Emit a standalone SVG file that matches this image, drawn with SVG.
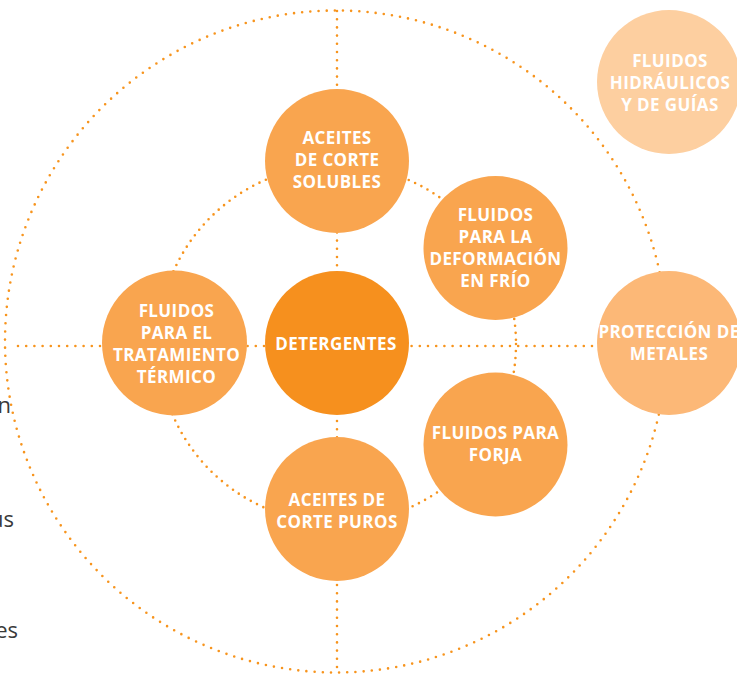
<svg xmlns="http://www.w3.org/2000/svg" width="737" height="675" viewBox="0 0 737 675">
<style>
.dot{fill:none;stroke:#F7941D;stroke-width:2.6;stroke-linecap:round;stroke-dasharray:0 8.2}
.dot2{fill:none;stroke:#F7941D;stroke-width:2.6;stroke-linecap:round;stroke-dasharray:0 7}
.n{fill:#F9A54F}
.c{fill:#F6901E}
.p{fill:#FCB877}
.h{fill:#FDCFA0}
.t{font-family:"Open Sans","Liberation Sans",sans-serif;font-weight:bold;font-size:17px;letter-spacing:0.4px;fill:#FFFFFF;text-anchor:middle}
.side{font-family:"Open Sans","Liberation Sans",sans-serif;font-size:22px;fill:#3A3A3A;text-anchor:end}
</style>
<rect width="737" height="675" fill="#FFFFFF"/>
<g id="connectors">
<circle class="dot" cx="336" cy="341.5" r="331"/>
<circle class="dot2" cx="337" cy="344" r="179"/>
<line class="dot" x1="337" y1="11" x2="337" y2="672"/>
<line class="dot" x1="18" y1="346" x2="668" y2="346"/>
</g>
<g class="side">
<text x="11" y="413">n</text>
<text x="14" y="527">us</text>
<text x="18" y="638">es</text>
</g>
<g id="node-aceites-solubles">
<circle class="n" cx="337" cy="161" r="72"/>
<text class="t" x="337" y="144">ACEITES</text>
<text class="t" x="337" y="166">DE CORTE</text>
<text class="t" x="337" y="188">SOLUBLES</text>
</g>
<g id="node-deformacion">
<circle class="n" cx="495.5" cy="248" r="72"/>
<text class="t" x="495.5" y="221">FLUIDOS</text>
<text class="t" x="495.5" y="243">PARA LA</text>
<text class="t" x="495.5" y="265">DEFORMACIÓN</text>
<text class="t" x="495.5" y="287">EN FRÍO</text>
</g>
<g id="node-tratamiento">
<circle class="n" cx="174.5" cy="343" r="72.5"/>
<text class="t" x="176.5" y="317">FLUIDOS</text>
<text class="t" x="176.5" y="339">PARA EL</text>
<text class="t" x="176.5" y="361">TRATAMIENTO</text>
<text class="t" x="176.5" y="383">TÉRMICO</text>
</g>
<g id="node-detergentes">
<circle class="c" cx="337" cy="343" r="72"/>
<text class="t" x="336" y="350">DETERGENTES</text>
</g>
<g id="node-proteccion">
<circle class="p" cx="669" cy="343" r="72"/>
<text class="t" x="669" y="338">PROTECCIÓN DE</text>
<text class="t" x="669" y="360">METALES</text>
</g>
<g id="node-hidraulicos">
<circle class="h" cx="669" cy="82" r="72"/>
<text class="t" x="670" y="67">FLUIDOS</text>
<text class="t" x="670" y="89">HIDRÁULICOS</text>
<text class="t" x="670" y="111">Y DE GUÍAS</text>
</g>
<g id="node-forja">
<circle class="n" cx="495.5" cy="444.5" r="72"/>
<text class="t" x="495.5" y="439">FLUIDOS PARA</text>
<text class="t" x="495.5" y="461">FORJA</text>
</g>
<g id="node-aceites-puros">
<circle class="n" cx="337" cy="509" r="72"/>
<text class="t" x="337" y="506">ACEITES DE</text>
<text class="t" x="337" y="528">CORTE PUROS</text>
</g>
</svg>
